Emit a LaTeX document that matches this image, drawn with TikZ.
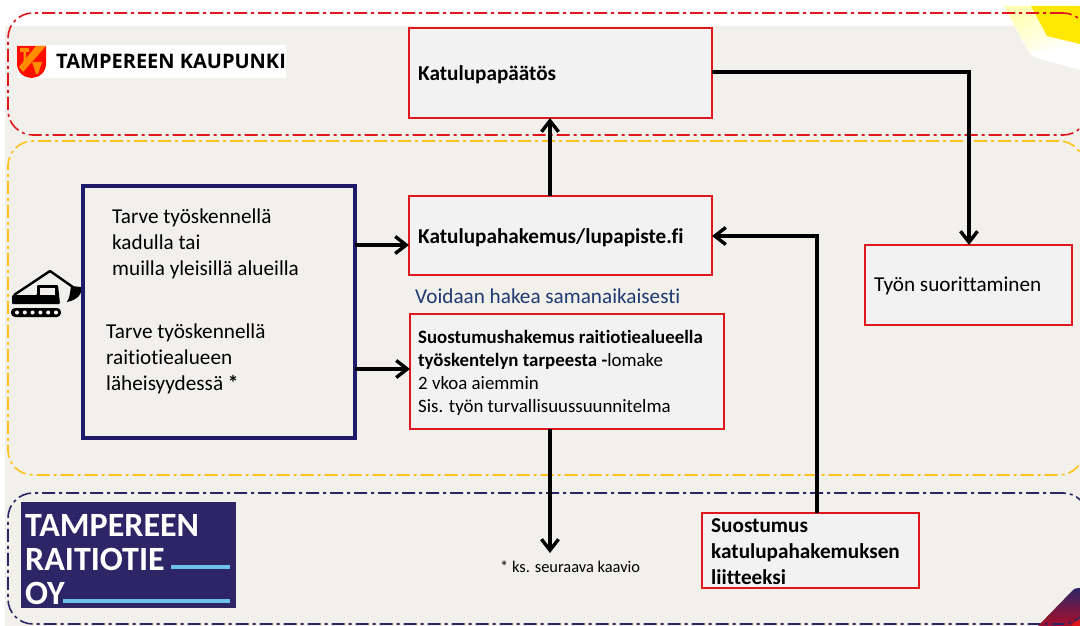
\documentclass[tikz,border=0pt]{standalone}
\usepackage{fontspec}
\setmainfont{Carlito}[Ligatures=NoCommon]
\newfontfamily\logofont{Open Sans}
\usepackage{tikz}
\usetikzlibrary{arrows.meta}

\definecolor{paper}{HTML}{F2F0EB}
\definecolor{boxgrey}{HTML}{F2F2F2}
\definecolor{permitred}{HTML}{E0161E}
\definecolor{bandyellow}{HTML}{FFC21A}
\definecolor{bandnavy}{HTML}{2D2566}
\definecolor{needblue}{HTML}{1E1B6B}
\definecolor{notetext}{HTML}{1F3A73}
\definecolor{barblue}{HTML}{6EC1E8}

\tikzset{
    band/.style={draw,rectangle,rounded corners=25pt,line width=1.6pt,outer sep=0pt,anchor=north west,
        dash pattern=on 13pt off 4pt on 3pt off 4pt},
    permit/.style={draw=permitred,fill=boxgrey,rectangle,line width=1.8pt,inner sep=0pt,outer sep=0pt,anchor=north west},
    label/.style={anchor=west,inner sep=0pt,align=left},
    bodytext/.style={label,font=\fontsize{21.2}{26}\selectfont},
    headtext/.style={label,font=\fontsize{21.2}{26}\selectfont\bfseries},
    tramtext/.style={label,text=white,font=\fontsize{34}{34}\selectfont\bfseries},
    flow/.style={line width=3.4pt,-{Straight Barb[length=11pt,width=17pt,line width=3.4pt]}},
}

\begin{document}
\begin{tikzpicture}[x=1pt,y=-1pt]
    \useasboundingbox (0,0) rectangle (1080,626);
    \clip (0,0) rectangle (1080,626);
    \fill[white] (0,0) rectangle (1080,626);
    \fill[paper] (5,26) rectangle (1080,626);

    % corners of the slide
    \fill[white] (1003,6) -- (1029,52) .. controls (1032,56) and (1034,57) .. (1037,58) -- (1080,70) -- (1080,6) -- cycle;
    \shade[left color=yellow!30,right color=white,shading angle=30] (1004,6) -- (1029,52) -- (1080,46) -- (1080,6) -- cycle;
    \fill[yellow!90!orange] (1031,6) -- (1047,36) -- (1080,44) -- (1080,6) -- cycle;
    \shade[left color=bandnavy,right color=red!60!bandnavy,shading angle=0] (1038,626) -- (1072,591) .. controls (1075,588) and (1077,588) .. (1080,588) -- (1080,626) -- cycle;
    \fill[permitred] (1072,626) -- (1080,616) -- (1080,626) -- cycle;

    % bands
    \node[band,draw=permitred,minimum width=1080pt,minimum height=122pt] (cityband) at (8,13) {};
    \node[band,draw=bandyellow,minimum width=1076pt,minimum height=334pt] (workband) at (8,141) {};
    \node[band,draw=bandnavy,minimum width=1080pt,minimum height=131pt] (tramband) at (8,493) {};

    % city logo
    \node[fill=white,rectangle,inner sep=0pt,minimum width=269pt,minimum height=33pt,anchor=north west] (citylogo) at (17,45) {};
    \node[label] (cityname) at (56,61) {\logofont\fontsize{20}{22}\selectfont\bfseries TAMPEREEN KAUPUNKI};
    \fill[red!90!orange] (17,46) -- (46,46) -- (46,64) .. controls (46,73) and (38,78) .. (31.5,78) .. controls (25,78) and (17,73) .. (17,64) -- cycle;
    \fill[orange!90!yellow] (36,46) -- (46,46) -- (23,72) -- (19,67) -- cycle;
    \fill[orange!90!yellow] (20,48) -- (29,48) -- (29,52) -- (26,52) -- (26,61) -- (23.5,61) -- (23.5,52) -- (20,52) -- cycle;
    \fill[orange!90!yellow] (32,62) -- (42,62) -- (38,74) -- (36,74) -- cycle;

    % excavator
    \draw[black,line width=2.4pt,line join=round] (14,295) -- (50,271) -- (80,292);
    \fill[black] (81,287) .. controls (83,294) and (77,300) .. (67,302) .. controls (70,297) and (70,293) .. (71,286) -- cycle;
    \fill[black,rounded corners=1pt] (12,295) -- (37,295) -- (37,285) -- (58,285) -- (60,304) -- (12,304) -- cycle;
    \fill[paper] (40,288) rectangle (55,295);
    \fill[black,rounded corners=4pt] (11,308) rectangle (61,317);
    \foreach \i in {0,1,2,3,4,5} {
        \fill[white] (17+\i*7.8,312.5) circle (2pt);
    }

    % tram logo
    \node[fill=bandnavy,rectangle,inner sep=0pt,minimum width=215pt,minimum height=106pt,anchor=north west] (tramlogo) at (21,502) {};
    \node[tramtext] (tramone) at (25,525) {TAMPEREEN};
    \node[tramtext] (tramtwo) at (25,559) {RAITIOTIE};
    \node[tramtext] (tramthree) at (25,593) {OY};
    \fill[barblue] (171,565) rectangle (230,569);
    \fill[barblue] (63,599) rectangle (230,603);

    % boxes
    \node[draw=needblue,fill=paper,rectangle,line width=4pt,outer sep=0pt,minimum width=272pt,minimum height=252pt,anchor=north west] (need) at (83,185.5) {};
    \node[permit,minimum width=303pt,minimum height=90pt] (decision) at (409,28) {};
    \node[permit,minimum width=303pt,minimum height=79pt] (application) at (409,196) {};
    \node[permit,minimum width=314pt,minimum height=115pt] (consentform) at (410,314) {};
    \node[permit,minimum width=207pt,minimum height=80pt] (execution) at (865,245) {};
    \node[permit,minimum width=217pt,minimum height=75pt] (consent) at (702,513) {};

    % texts
    \node[headtext] (decisiontext) at (418,75) {Katulupapäätös};
    \node[headtext] (applicationtext) at (418,238) {Katulupahakemus/lupapiste.fi};
    \node[bodytext,text=notetext] (sametime) at (415,296) {Voidaan hakea samanaikaisesti};
    \node[label,font=\fontsize{18.85}{23}\selectfont] (formtext) at (418,373) {\textbf{Suostumushakemus raitiotiealueella}\\\textbf{työskentelyn tarpeesta -}lomake\\2 vkoa aiemmin\\Sis. työn turvallisuussuunnitelma};
    \node[bodytext] (executiontext) at (874,286) {Työn suorittaminen};
    \node[headtext] (consenttext) at (711,552) {Suostumus\\katulupahakemuksen\\liitteeksi};
    \node[bodytext] (needone) at (112,244) {Tarve työskennellä\\kadulla tai\\muilla yleisillä alueilla};
    \node[bodytext] (needtwo) at (106,359) {Tarve työskennellä\\raitiotiealueen\\läheisyydessä \textbf{*}};
    \node[label,font=\fontsize{16.4}{18}\selectfont] (seenext) at (500,567) {* ks. seuraava kaavio};

    % free ends
    \coordinate (formend) at (550,553);

    % connectors
    \draw[flow] (application.north -| 550,0) -- (decision.south -| 550,0);
    \draw[flow] (decision.east |- 0,72) -| (execution.north -| 969,0);
    \draw[flow] (need.east |- 0,245) -- (application.west |- 0,245);
    \draw[flow] (need.east |- 0,369) -- (consentform.west |- 0,369);
    \draw[flow] (consentform.south -| 550,0) -- (formend);
    \draw[flow] (consent.north -| 817,0) |- (application.east |- 0,236);
\end{tikzpicture}
\end{document}
